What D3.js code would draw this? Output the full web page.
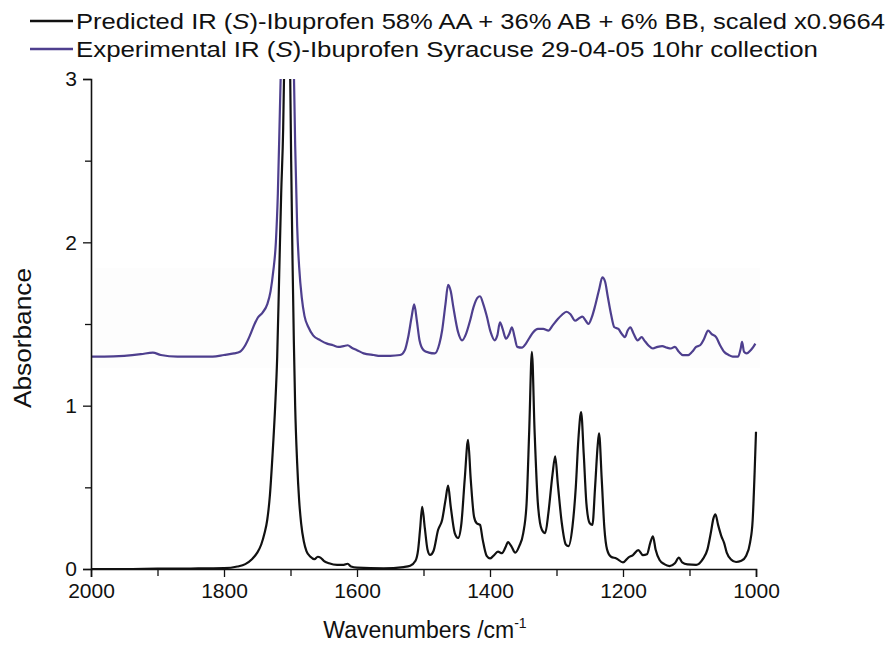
<!DOCTYPE html>
<html>
<head>
<meta charset="utf-8">
<script src="https://cdn.jsdelivr.net/npm/d3@7"></script>
<style>
  html, body { margin: 0; padding: 0; background: #fff; }
  svg { display: block; }
  text { font-family: "Liberation Sans", Arial, sans-serif; fill: #111; }
</style>
</head>
<body>
<svg id="chart" width="893" height="649"></svg>
<script>
// ---- data ----
const legendLabels = [
  ["Predicted IR (", "S", ")-Ibuprofen 58% AA + 36% AB + 6% BB, scaled x0.9664"],
  ["Experimental IR (", "S", ")-Ibuprofen Syracuse 29-04-05 10hr collection"]
];
const xTicks = [2000, 1800, 1600, 1400, 1200, 1000];
const xMinorTicks = [1900, 1700, 1500, 1300, 1100];
const yTicks = [0, 1, 2, 3];
const yMinorTicks = [0.5, 1.5, 2.5];

const predWave = [2000,1950,1900,1850,1800,1780,1768,1758,1750,1744,1739,1735,1731,1727,1723,1720,1717,1714,1711,1709,1706,1701,1699,1697,1695,1693,1690,1687,1684,1680,1676,1670,1664,1659,1655,1650,1642,1630,1620,1614,1609,1600,1560,1530,1520,1512,1508,1505,1502,1498,1494,1490,1485,1478,1472,1467,1463,1459,1453,1448,1443,1438,1433,1429,1424,1420,1415,1411,1405,1400,1395,1388,1382,1376,1373,1368,1362,1356,1350,1345,1341,1337,1333,1328,1322,1317,1312,1306,1302,1298,1292,1286,1282,1276,1271,1267,1263,1259,1255,1250,1246,1242,1238,1236,1232,1228,1224,1218,1210,1200,1192,1185,1177,1170,1164,1159,1155,1151,1145,1138,1130,1122,1116,1111,1103,1090,1080,1073,1068,1064,1061,1057,1052,1048,1044,1038,1030,1022,1015,1009,1005,1002,1000];
const predAbs = [0.0,0.0,0.002,0.003,0.005,0.015,0.03,0.06,0.10,0.15,0.22,0.30,0.45,0.70,1.00,1.30,1.80,2.30,2.70,3.2,4.0,3.2,2.5,1.9,1.4,1.0,0.65,0.42,0.28,0.17,0.11,0.075,0.06,0.075,0.07,0.05,0.035,0.025,0.025,0.032,0.015,0.008,0.004,0.012,0.02,0.05,0.12,0.25,0.38,0.25,0.12,0.086,0.11,0.24,0.30,0.42,0.51,0.38,0.22,0.19,0.28,0.55,0.79,0.55,0.32,0.28,0.27,0.18,0.08,0.065,0.08,0.106,0.097,0.14,0.165,0.14,0.10,0.14,0.22,0.40,0.85,1.33,0.85,0.40,0.24,0.22,0.35,0.58,0.69,0.52,0.28,0.15,0.14,0.26,0.50,0.80,0.96,0.70,0.40,0.28,0.27,0.50,0.76,0.83,0.55,0.25,0.12,0.075,0.065,0.04,0.07,0.085,0.116,0.085,0.09,0.16,0.20,0.12,0.055,0.03,0.018,0.035,0.07,0.04,0.028,0.025,0.06,0.12,0.22,0.31,0.335,0.27,0.20,0.16,0.10,0.06,0.043,0.05,0.08,0.16,0.30,0.60,0.84];

const expWave = [2000,1980,1950,1925,1907,1895,1870,1840,1817,1800,1785,1776,1768,1761,1754,1749,1742,1735,1730,1726,1722,1719,1716,1713,1708,1700,1696,1693,1690,1687,1683,1679,1673,1666,1655,1645,1636,1628,1620,1614,1608,1600,1590,1575,1565,1550,1535,1528,1523,1518,1514,1510,1506,1500,1492,1483,1476,1472,1467,1463,1459,1455,1448,1442,1436,1430,1425,1419,1415,1410,1405,1399,1393,1389,1385,1381,1376,1371,1367,1363,1359,1352,1346,1340,1335,1328,1320,1312,1306,1298,1292,1285,1279,1272,1266,1261,1256,1252,1247,1242,1236,1231,1227,1223,1218,1213,1207,1202,1197,1193,1189,1184,1178,1172,1168,1162,1155,1148,1141,1134,1128,1122,1116,1110,1102,1096,1090,1084,1078,1072,1067,1060,1054,1048,1041,1035,1027,1023,1021,1018,1014,1008,1004,1001];
const expAbs = [1.30,1.30,1.305,1.315,1.325,1.31,1.30,1.30,1.30,1.31,1.32,1.33,1.37,1.43,1.50,1.54,1.57,1.62,1.70,1.82,2.00,2.3,2.8,3.3,4.0,4.0,3.3,2.6,2.1,1.85,1.66,1.55,1.48,1.43,1.40,1.38,1.37,1.36,1.365,1.37,1.355,1.34,1.32,1.31,1.305,1.305,1.31,1.34,1.42,1.54,1.62,1.52,1.40,1.34,1.325,1.32,1.38,1.46,1.62,1.74,1.70,1.60,1.45,1.40,1.44,1.52,1.60,1.66,1.67,1.62,1.55,1.45,1.40,1.43,1.51,1.47,1.41,1.44,1.48,1.42,1.36,1.355,1.38,1.42,1.45,1.47,1.47,1.46,1.49,1.53,1.555,1.575,1.56,1.52,1.535,1.545,1.52,1.50,1.54,1.61,1.71,1.785,1.76,1.67,1.56,1.48,1.47,1.44,1.42,1.46,1.48,1.44,1.40,1.42,1.40,1.37,1.35,1.36,1.365,1.355,1.35,1.36,1.33,1.31,1.31,1.33,1.36,1.37,1.41,1.46,1.44,1.42,1.37,1.33,1.31,1.30,1.30,1.35,1.39,1.33,1.32,1.34,1.36,1.38];

const predColor = "#111111";
const expColor = "#4e3f8e";

// ---- drawing ----
const svg = d3.select("#chart");
const x = d3.scaleLinear().domain([2000, 1000]).range([91, 756]);
const y = d3.scaleLinear().domain([0, 3]).range([569, 79]);

// very faint scan shading
svg.append("rect").attr("x", 95).attr("y", 268).attr("width", 665).attr("height", 100).attr("fill", "#fdfdfd");

svg.append("clipPath").attr("id", "plotclip")
  .append("rect").attr("x", 85).attr("y", 79).attr("width", 680).attr("height", 500);

const line = d3.line().x(d => x(d[0])).y(d => y(d[1])).curve(d3.curveMonotoneX);
const g = svg.append("g").attr("clip-path", "url(#plotclip)");
g.append("path").datum(d3.zip(expWave, expAbs))
  .attr("fill", "none").attr("stroke", expColor).attr("stroke-width", 2.2).attr("stroke-linejoin", "round").attr("d", line);
g.append("path").datum(d3.zip(predWave, predAbs))
  .attr("fill", "none").attr("stroke", predColor).attr("stroke-width", 2.2).attr("stroke-linejoin", "round").attr("d", line);

// axes
svg.append("g").attr("transform", "translate(0,569)")
  .call(d3.axisBottom(x).tickValues(xTicks).tickSize(8).tickPadding(6).tickFormat(d3.format("d")));
svg.append("g").attr("transform", "translate(0,569)")
  .call(d3.axisBottom(x).tickValues(xMinorTicks).tickSize(7).tickFormat(""))
  .select(".domain").remove();
svg.append("g").attr("transform", "translate(91,0)")
  .call(d3.axisLeft(y).tickValues(yTicks).tickSize(8).tickPadding(6).tickFormat(d3.format("d")));
svg.append("g").attr("transform", "translate(91,0)")
  .call(d3.axisLeft(y).tickValues(yMinorTicks).tickSize(6).tickFormat(""))
  .select(".domain").remove();

svg.selectAll(".domain").attr("stroke", "#111").attr("stroke-width", 1.6);
svg.selectAll(".tick line").attr("stroke", "#111").attr("stroke-width", 1.3);
svg.selectAll(".tick text").attr("font-size", 21).attr("fill", "#111")
  .attr("font-family", "Liberation Sans, Arial, sans-serif");

// axis titles
const xt = svg.append("text").attr("x", 425).attr("y", 638).attr("text-anchor", "middle").attr("font-size", 23);
xt.append("tspan").text("Wavenumbers /cm");
xt.append("tspan").attr("dy", -10).attr("font-size", 14).text("-1");

svg.append("text").attr("transform", "translate(31,338) rotate(-90)")
  .attr("text-anchor", "middle").attr("font-size", 23)
  .attr("textLength", 140).attr("lengthAdjust", "spacingAndGlyphs").text("Absorbance");

// legend
const legendColors = [predColor, expColor];
const legendY = [21, 49];
const legendEnd = [885, 818];
legendLabels.forEach((parts, i) => {
  svg.append("line").attr("x1", 30).attr("x2", 73).attr("y1", legendY[i]).attr("y2", legendY[i])
    .attr("stroke", legendColors[i]).attr("stroke-width", 2.4);
  const t = svg.append("text").attr("x", 76).attr("y", legendY[i] + 8).attr("font-size", 22)
    .attr("textLength", legendEnd[i] - 76).attr("lengthAdjust", "spacingAndGlyphs");
  t.append("tspan").text(parts[0]);
  t.append("tspan").attr("font-style", "italic").text(parts[1]);
  t.append("tspan").text(parts[2]);
});
</script>
</body>
</html>
